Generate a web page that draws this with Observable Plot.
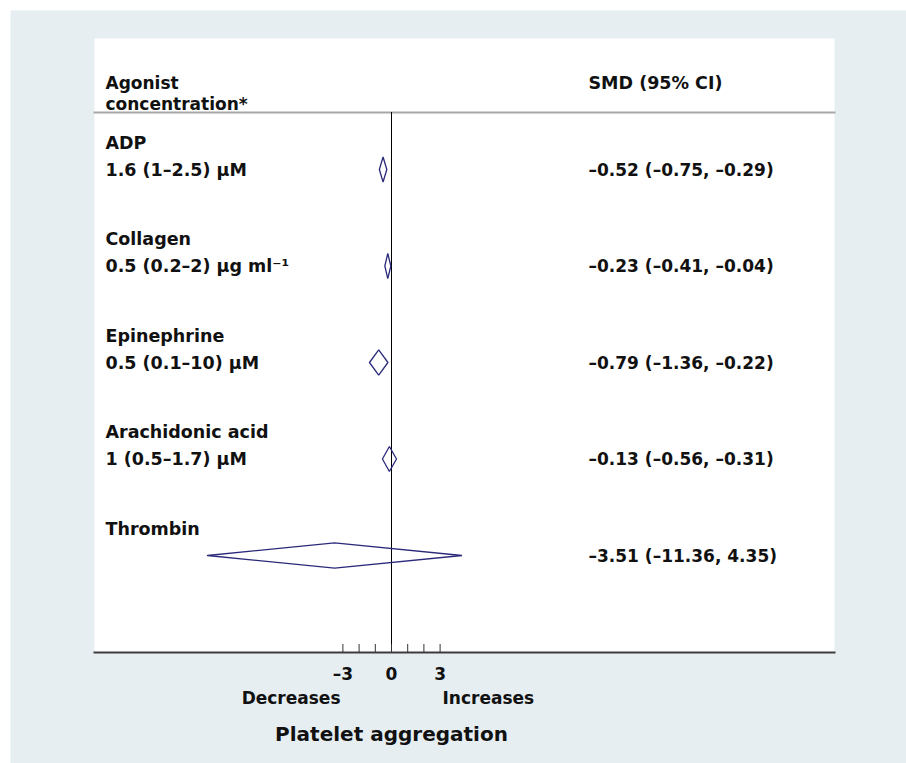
<!DOCTYPE html>
<html><head><meta charset="utf-8">
<script src="https://cdn.jsdelivr.net/npm/d3@7"></script>
<script src="https://cdn.jsdelivr.net/npm/@observablehq/plot@0.6"></script>
<style>
html,body{margin:0;padding:0;background:#ffffff;}
#chart svg{display:block;}
</style></head><body><div id="chart"></div>
<script>
// ---- data ----
const agonists = ["ADP", "Collagen", "Epinephrine", "Arachidonic acid", "Thrombin"];
const concentrations = ["1.6 (1–2.5) μM", "0.5 (0.2–2) μg ml⁻¹", "0.5 (0.1–10) μM", "1 (0.5–1.7) μM", ""];
const smd    = [-0.52, -0.23, -0.79, -0.13, -3.51];
const ciLow  = [-0.75, -0.41, -1.36, -0.56, -11.36];
const ciHigh = [-0.29, -0.04, -0.22,  0.31,  4.35];
const smdLabels = ["–0.52 (–0.75, –0.29)", "–0.23 (–0.41, –0.04)", "–0.79 (–1.36, –0.22)", "–0.13 (–0.56, –0.31)", "–3.51 (–11.36, 4.35)"];
const xTicks = [-3, -2, -1, 0, 1, 2, 3];
const xTickLabels = [-3, 0, 3];
const headerLeft = ["Agonist", "concentration*"];
const headerRight = "SMD (95% CI)";
const directionLabels = ["Decreases", "Increases"];
const axisTitle = "Platelet aggregation";

// ---- derived tables ----
const rows = agonists.map((a, i) => ({i, agonist: a, conc: concentrations[i], est: smd[i], lo: ciLow[i], hi: ciHigh[i], label: smdLabels[i]}));
const H = 0.13; // diamond half-height in row units
const diamonds = rows.flatMap(r => [
  {i: r.i, x: r.lo, y: r.i},
  {i: r.i, x: r.est, y: r.i - H},
  {i: r.i, x: r.hi, y: r.i},
  {i: r.i, x: r.est, y: r.i + H},
  {i: r.i, x: r.lo, y: r.i}
]);
const fmt = d => d < 0 ? "–" + Math.abs(d) : String(d);

const FONT = "DejaVu Sans";
const INK = "#111111";
const txt = {fontFamily: FONT, fontWeight: "bold", fill: INK, stroke: null};

const chart = Plot.plot({
  width: 906,
  height: 763,
  marginLeft: 94,
  marginRight: 72,
  marginTop: 112,
  marginBottom: 111,
  style: {fontFamily: FONT, background: "transparent"},
  x: {domain: [-3, 3], range: [342.4, 439.6], axis: null},
  y: {type: "linear", domain: [0, agonists.length - 1], range: [169, 555], axis: null},
  marks: [
    // outer tinted box and white panel
    Plot.frame({fill: "#e6eef2", stroke: null, insetLeft: -84, insetTop: -102, insetRight: -72, insetBottom: -111}),
    Plot.frame({fill: "#ffffff", stroke: null, insetTop: -74}),
    // header separator & axis line
    Plot.frame({anchor: "top", stroke: "#a8a8a8", strokeWidth: 2}),
    Plot.frame({anchor: "bottom", stroke: "#3c3c3c", strokeWidth: 2}),
    // zero line
    Plot.ruleX([0], {stroke: "#000000", strokeWidth: 1}),
    // ticks pointing up from the axis line
    Plot.tickX(xTicks, {x: d => d, insetTop: 532, stroke: "#333333", strokeWidth: 1}),
    // diamonds
    Plot.line(diamonds, {x: "x", y: "y", z: "i", stroke: "#2b2a7a", strokeWidth: 1.3, strokeLinejoin: "miter"}),
    // header
    Plot.text([headerLeft[0]], {...txt, frameAnchor: "top-left", text: d => d, dx: 11, dy: -24, textAnchor: "start", lineAnchor: "bottom", fontSize: 17}),
    Plot.text([headerLeft[1]], {...txt, frameAnchor: "top-left", text: d => d, dx: 11, dy: -3, textAnchor: "start", lineAnchor: "bottom", fontSize: 17}),
    Plot.text([headerRight], {...txt, frameAnchor: "top-left", text: d => d, dx: 494, dy: -24, textAnchor: "start", lineAnchor: "bottom", fontSize: 17.5}),
    // row texts
    Plot.text(rows, {...txt, y: "i", frameAnchor: "left", dx: 11, dy: -21, text: "agonist", lineAnchor: "bottom", textAnchor: "start", fontSize: 17.5}),
    Plot.text(rows, {...txt, y: "i", frameAnchor: "left", dx: 11, dy: 6, text: "conc", lineAnchor: "bottom", textAnchor: "start", fontSize: 17.5}),
    Plot.text(rows, {...txt, y: "i", frameAnchor: "left", dx: 494, dy: 6, text: "label", lineAnchor: "bottom", textAnchor: "start", fontSize: 17}),
    // axis labels
    Plot.text(xTickLabels, {...txt, x: d => d, frameAnchor: "bottom", dy: 27, text: fmt, lineAnchor: "bottom", fontSize: 17}),
    Plot.text([directionLabels[0]], {...txt, x: () => 0, dx: -51, frameAnchor: "bottom", dy: 51, text: d => d, textAnchor: "end", lineAnchor: "bottom", fontSize: 17}),
    Plot.text([directionLabels[1]], {...txt, x: () => 0, dx: 51, frameAnchor: "bottom", dy: 51, text: d => d, textAnchor: "start", lineAnchor: "bottom", fontSize: 17}),
    Plot.text([axisTitle], {...txt, x: () => 0, frameAnchor: "bottom", dy: 88, text: d => d, lineAnchor: "bottom", fontSize: 20})
  ]
});

document.getElementById("chart").appendChild(chart);
</script>
</body></html>
